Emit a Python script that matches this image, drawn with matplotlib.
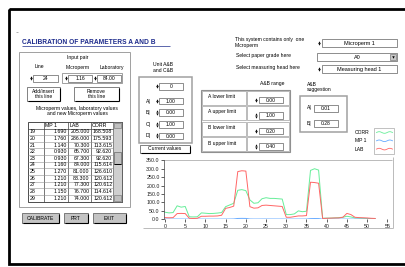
import matplotlib.pyplot as plt
from matplotlib.patches import Rectangle
import numpy as np

plt.rcParams['font.family'] = ['Liberation Sans', 'DejaVu Sans']

# table values (rows 19-29)
rows = [19, 20, 21, 22, 23, 24, 25, 26, 27, 28, 29]
tab_mp1 = [1.690, 1.760, 1.140, 0.930, 0.930, 1.160, 1.270, 1.210, 1.210, 1.150, 1.210]
tab_lab = [205.000, 286.000, 70.300, 65.700, 67.300, 84.000, 81.000, 83.300, 77.300, 76.700, 74.000]
tab_corr = [168.508, 175.593, 113.615, 92.620, 92.620, 115.614, 126.610, 120.612, 120.612, 114.614, 120.612]

# chart series
xs = list(range(53))
corr = [42, 38, 40, 80, 72, 76, 15, 14, 15, 38,
        36, 34, 35, 37, 40, 75, 85, 95, 172, 176,
        170, 115, 95, 98, 122, 128, 124, 124, 122, 120,
        28, 28, 32, 50, 45, 48, 290, 300, 292, 6,
        7, 7, 8, 10, 12, 18, 14, 8, 7, 6,
        5, 4, 4]
mp1 = [1.5, 1.4, 1.4, 1.6, 1.6, 1.5, 1.2, 1.1, 1.2, 1.3,
       1.3, 1.3, 1.3, 1.4, 1.4, 1.5, 1.6, 2.0, 5.0, 5.5,
       5.2, 1.8, 1.5, 1.5, 1.7, 1.8, 1.7, 1.7, 1.6, 1.7,
       1.2, 1.2, 1.3, 1.4, 1.4, 1.5, 4.0, 4.5, 4.2, 1.1,
       1.1, 1.1, 1.2, 1.2, 1.2, 1.3, 1.3, 1.2, 1.2, 1.1,
       1.1, 1.1, 1.1]
lab = [10, 9, 10, 34, 35, 34, 6, 5, 6, 18,
       18, 19, 19, 20, 24, 65, 70, 78, 283, 288,
       286, 75, 66, 68, 82, 84, 82, 80, 78, 76,
       12, 12, 16, 20, 20, 22, 220, 218, 214, 5,
       6, 7, 8, 8, 12, 35, 28, 12, 10, 9,
       8, 6, 5]
series_names = ['CORR', 'MP 1', 'LAB']
series_colors = ['#66ee99', '#66aaff', '#ff6666']

xticks = list(range(0, 56, 5))
yticks = list(range(0, 351, 50))

unit_labels = ['A', 'B', 'C', 'D']
unit_values = ['1.00', '0.00', '1.00', '0.00']
range_labels = ['A lower limit', 'A upper limit', 'B lower limit', 'B upper limit']
range_values = ['0.00', '1.00', '0.20', '0.40']
sugg_values = ['0.01', '0.28']

W, H = 406, 267
fig = plt.figure(figsize=(W / 100, H / 100), dpi=100)
ax = fig.add_axes([0, 0, 1, 1])
ax.set_xlim(0, W)
ax.set_ylim(H, 0)
ax.axis('off')

FS = 3.6


def line(x0, y0, x1, y1, c='#808080', lw=0.5, z=3):
    ax.plot([x0, x1], [y0, y1], color=c, lw=lw, zorder=z, solid_capstyle='butt')


def rect(x0, y0, x1, y1, ec='#808080', fc='none', lw=0.5, z=2):
    ax.add_patch(Rectangle((x0, y0), x1 - x0, y1 - y0, ec=ec, fc=fc, lw=lw, zorder=z))


def txt(x, y, s, size=FS, ha='left', **kw):
    ax.text(x, y, s, fontsize=size, ha=ha, va='center', zorder=6, **kw)


def button(x0, y0, x1, y1, label, fc='white', size=FS):
    rect(x0, y0, x1, y1, ec='#505050', fc=fc, lw=0.5)
    line(x0 + 0.8, y1 + 0.4, x1 + 0.4, y1 + 0.4, 'black', 0.8)
    line(x1 + 0.4, y0 + 0.8, x1 + 0.4, y1 + 0.4, 'black', 0.8)
    txt((x0 + x1) / 2, (y0 + y1) / 2, label, size=size, ha='center', linespacing=0.9)


def spinner(x, y):
    ax.plot([x], [y - 1.4], marker='^', ms=1.7, color='black', mew=0, zorder=6)
    ax.plot([x], [y + 1.4], marker='v', ms=1.7, color='black', mew=0, zorder=6)


def field(x0, y0, x1, y1, val, ha='center', size=FS):
    rect(x0, y0, x1, y1, ec='#606060', fc='white', lw=0.5)
    xt = (x0 + x1) / 2 if ha == 'center' else x1 - 1.5
    txt(xt, (y0 + y1) / 2 + 0.2, val, size=size, ha=ha)


# outer frame
rect(9, 9, 430, 264, ec='black', lw=2.0, z=1)
line(16, 32, 18, 32, '#909090', 0.5)

# title
ax.text(22, 42, 'CALIBRATION OF PARAMETERS A AND B', fontsize=4.8, fontweight='bold',
        color='#1c2a8c', va='center', ha='left', zorder=6)
line(22, 45.6, 170, 45.6, '#1c2a8c', 0.5)

# left group
rect(19, 52, 130, 207, ec='#a0a0a0', lw=0.7)
txt(78, 58, 'Input pair', ha='center')
txt(39, 67, 'Line', ha='center')
txt(78, 67, 'Microperm', ha='center')
txt(112, 67, 'Laboratory', ha='center')
spinner(31, 78)
field(33, 74.5, 58, 81.5, '24')
rect(62.5, 73, 122.5, 83, ec='#909090', lw=0.6)
spinner(66, 78)
field(68, 74.5, 92, 81.5, '1.16')
spinner(95, 78)
field(97, 74.5, 121, 81.5, '84.00')
button(27, 87, 60, 101, 'Add/insert\nthis line')
button(74, 87, 119, 101, 'Remove\nthis line')
txt(77, 108.5, 'Microperm values, laboratory values', ha='center')
txt(77, 114, 'and new Microperm values', ha='center')

# table
cols = [28.3, 44.3, 68.3, 90.7, 113.3, 121.7]
ty0, thead, ty1 = 122, 128.5, 201.5
rh = (ty1 - thead) / len(rows)
rect(cols[0], ty0, cols[-1], ty1, ec='#303030', fc='white', lw=0.6)
for cx in cols[1:4]:
    line(cx, ty0, cx, ty1, '#404040', 0.5)
line(cols[0], thead, cols[4], thead, '#404040', 0.5)
for i in range(1, len(rows)):
    line(cols[0], thead + i * rh, cols[4], thead + i * rh, '#909090', 0.4)
for j, h in enumerate(['MP 1', 'LAB', 'CORR']):
    txt(cols[j + 1] + 1.2, (ty0 + thead) / 2, h, size=3.8)
for i, r in enumerate(rows):
    yc = thead + (i + 0.5) * rh
    txt(cols[0] + 1, yc, str(r), size=3.8)
    txt(cols[2] - 1.2, yc, '%.3f' % tab_mp1[i], size=3.8, ha='right')
    txt(cols[3] - 1.0, yc, '%.3f' % tab_lab[i], size=3.8, ha='right')
    txt(cols[4] - 1.0, yc, '%.3f' % tab_corr[i], size=3.8, ha='right')
# scrollbar
rect(cols[4], ty0, cols[5], ty1, ec='#404040', fc='#cfcfcf', lw=0.4)
rect(cols[4] + 0.5, ty0 + 0.5, cols[5] - 0.8, thead - 0.5, ec='#707070', fc='#c0c0c0', lw=0.4)
rect(cols[4] + 0.5, 152, cols[5] - 0.8, 164, ec='#505050', fc='#c0c0c0', lw=0.4)
line(cols[4] + 0.8, 164.4, cols[5] - 0.4, 164.4, 'black', 0.7)
rect(cols[4] + 0.5, 195, cols[5] - 0.8, ty1 - 0.5, ec='#707070', fc='#c0c0c0', lw=0.4)

# bottom buttons
button(22, 213, 59, 223, 'CALIBRATE', fc='#c4c4c4')
button(64, 213, 88, 223, 'PRT', fc='#c4c4c4')
button(93, 213, 126, 223, 'EXIT', fc='#c4c4c4')

# unit box
txt(163, 64, 'Unit A&B', ha='center')
txt(163, 70.5, 'and C&B', ha='center')
rect(139, 77, 192, 143, ec='#a0a0a0', lw=1.1)
spinner(157, 86)
field(159, 83, 183, 89.5, '0')
for i, (lbl, v) in enumerate(zip(unit_labels, unit_values)):
    yc = 101 + i * 11.6
    txt(146, yc, lbl + '|', size=3.6)
    spinner(157, yc)
    field(159, yc - 3.3, 183, yc + 3.3, v)
button(140, 145, 190, 153, 'Current values')

# A&B range
txt(272, 84, 'A&B range', ha='center')
rect(201, 90, 290, 152, ec='#909090', lw=0.8)
for i, (lbl, v) in enumerate(zip(range_labels, range_values)):
    y0 = 90 + i * 15.5
    rect(202, y0 + 0.8, 246.5, y0 + 14.8, ec='#a0a0a0', lw=0.5)
    rect(247.5, y0 + 0.8, 289, y0 + 14.8, ec='#a0a0a0', lw=0.5)
    txt(208, y0 + 6.5, lbl)
    spinner(256, y0 + 10)
    field(259, y0 + 6.8, 283, y0 + 13.2, v)

# suggestion
txt(307, 84, 'A&B')
txt(307, 90, 'suggestion')
rect(300, 96, 347, 132, ec='#a0a0a0', lw=1.1)
for i, v in enumerate(sugg_values):
    yc = 108 + i * 15
    txt(307, yc, ['A', 'B'][i] + '|')
    field(314, yc - 3.5, 338, yc + 3.5, v)

# top right
txt(235, 39, 'This system contains only  one')
txt(235, 45.5, 'Microperm')
spinner(319, 43)
field(322, 39, 397, 47, 'Microperm 1', size=4.0)
txt(236, 55, 'Select paper grade here')
field(317, 53, 397, 61, 'A0', size=4.0)
rect(390, 53.6, 396.4, 60.4, ec='#606060', fc='#c8c8c8', lw=0.4)
ax.plot([393.2], [57.2], marker='v', ms=1.8, color='black', mew=0, zorder=7)
txt(236, 68, 'Select measuring head here')
spinner(319, 69)
field(322, 65, 397, 73, 'Measuring head 1', size=4.0)

# legend
rect(374.5, 128, 394.5, 154, ec='#a8a8a8', lw=0.5)
wave = np.linspace(0, 1, 30)
for i, (nm, c) in enumerate(zip(series_names, series_colors)):
    yc = 132.5 + i * 8.3
    txt(355, yc, nm, size=3.6)
    ax.plot(376.5 + wave * 16, yc - 0.8 * np.sin(wave * 2 * np.pi * 1.5), color=c, lw=0.6, zorder=6)

# chart frame lines
line(164, 160, 392, 160, '#b0b0b0', 0.6)
line(393, 157, 393, 228, '#b0b0b0', 0.6)
line(143, 228, 393, 228, '#b0b0b0', 0.6)

# chart
cax = fig.add_axes([164 / W, 1 - 219.3 / H, (387.3 - 164) / W, (219.3 - 160.3) / H])
cax.patch.set_alpha(0)
cax.plot(xs, corr, color=series_colors[0], lw=0.7, label=series_names[0])
cax.plot(xs, mp1, color=series_colors[1], lw=0.7, label=series_names[1])
cax.plot(xs, lab, color=series_colors[2], lw=0.7, label=series_names[2])
cax.set_xlim(-0.25, 55)
cax.set_ylim(0, 350)
for s in ['top', 'right', 'bottom']:
    cax.spines[s].set_visible(False)
cax.spines['left'].set_color('#404040')
cax.spines['left'].set_linewidth(0.5)
cax.set_xticks(xticks)
cax.set_xticklabels([str(v) for v in xticks])
cax.set_yticks(yticks)
cax.set_yticklabels(['%.1f' % v for v in yticks])
cax.tick_params(axis='both', length=2.5, width=0.5, labelsize=3.8, pad=0.6, colors='#202020')

fig.savefig('out.png', dpi=100)
